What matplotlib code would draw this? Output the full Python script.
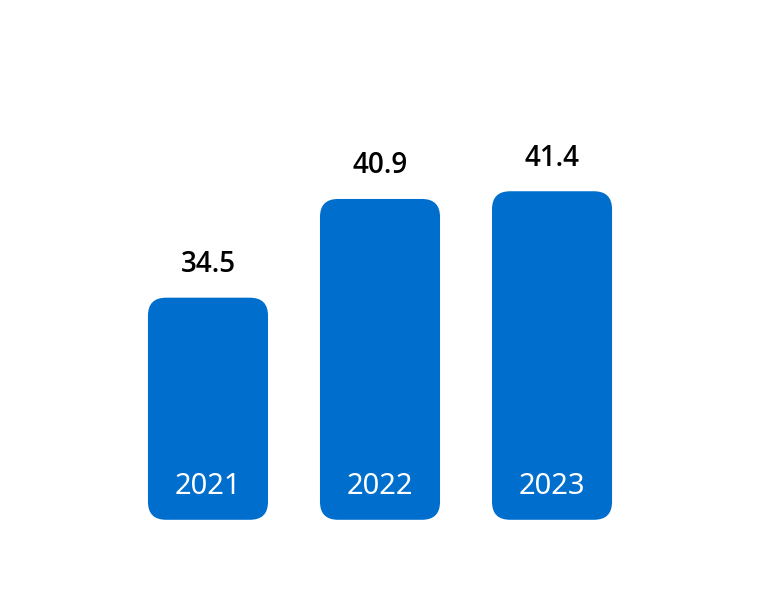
import matplotlib.pyplot as plt
from matplotlib.patches import FancyBboxPatch

years = ['2021', '2022', '2023']
values = [34.5, 40.9, 41.4]

base = 20.1  # the bars do not start at zero in the original
bar_color = '#006ecd'

fig = plt.figure(figsize=(7.6, 6), dpi=100)
ax = fig.add_axes([0, 0, 1, 1])
ax.set_xlim(-1.209, 3.209)
ax.set_ylim(14.9, 53.8)
ax.axis('off')

width = 0.698
# keep the corner round although x and y units differ
aspect = (1 / 15.43) / (1 / 172)

for i, (yr, v) in enumerate(zip(years, values)):
    box = FancyBboxPatch((i - width / 2, base), width, v - base,
                         boxstyle='round,pad=0,rounding_size=0.105',
                         mutation_aspect=aspect,
                         facecolor=bar_color, edgecolor='none')
    ax.add_patch(box)
    ax.text(i, v + 2.15, f'{v:.1f}', ha='center', va='center',
            fontsize=20, fontweight='semibold', family='Open Sans', color='black')
    ax.text(i, base + 2.15, yr, ha='center', va='center',
            fontsize=21, family='Noto Sans', color='white')

fig.savefig('out.png', dpi=100)
